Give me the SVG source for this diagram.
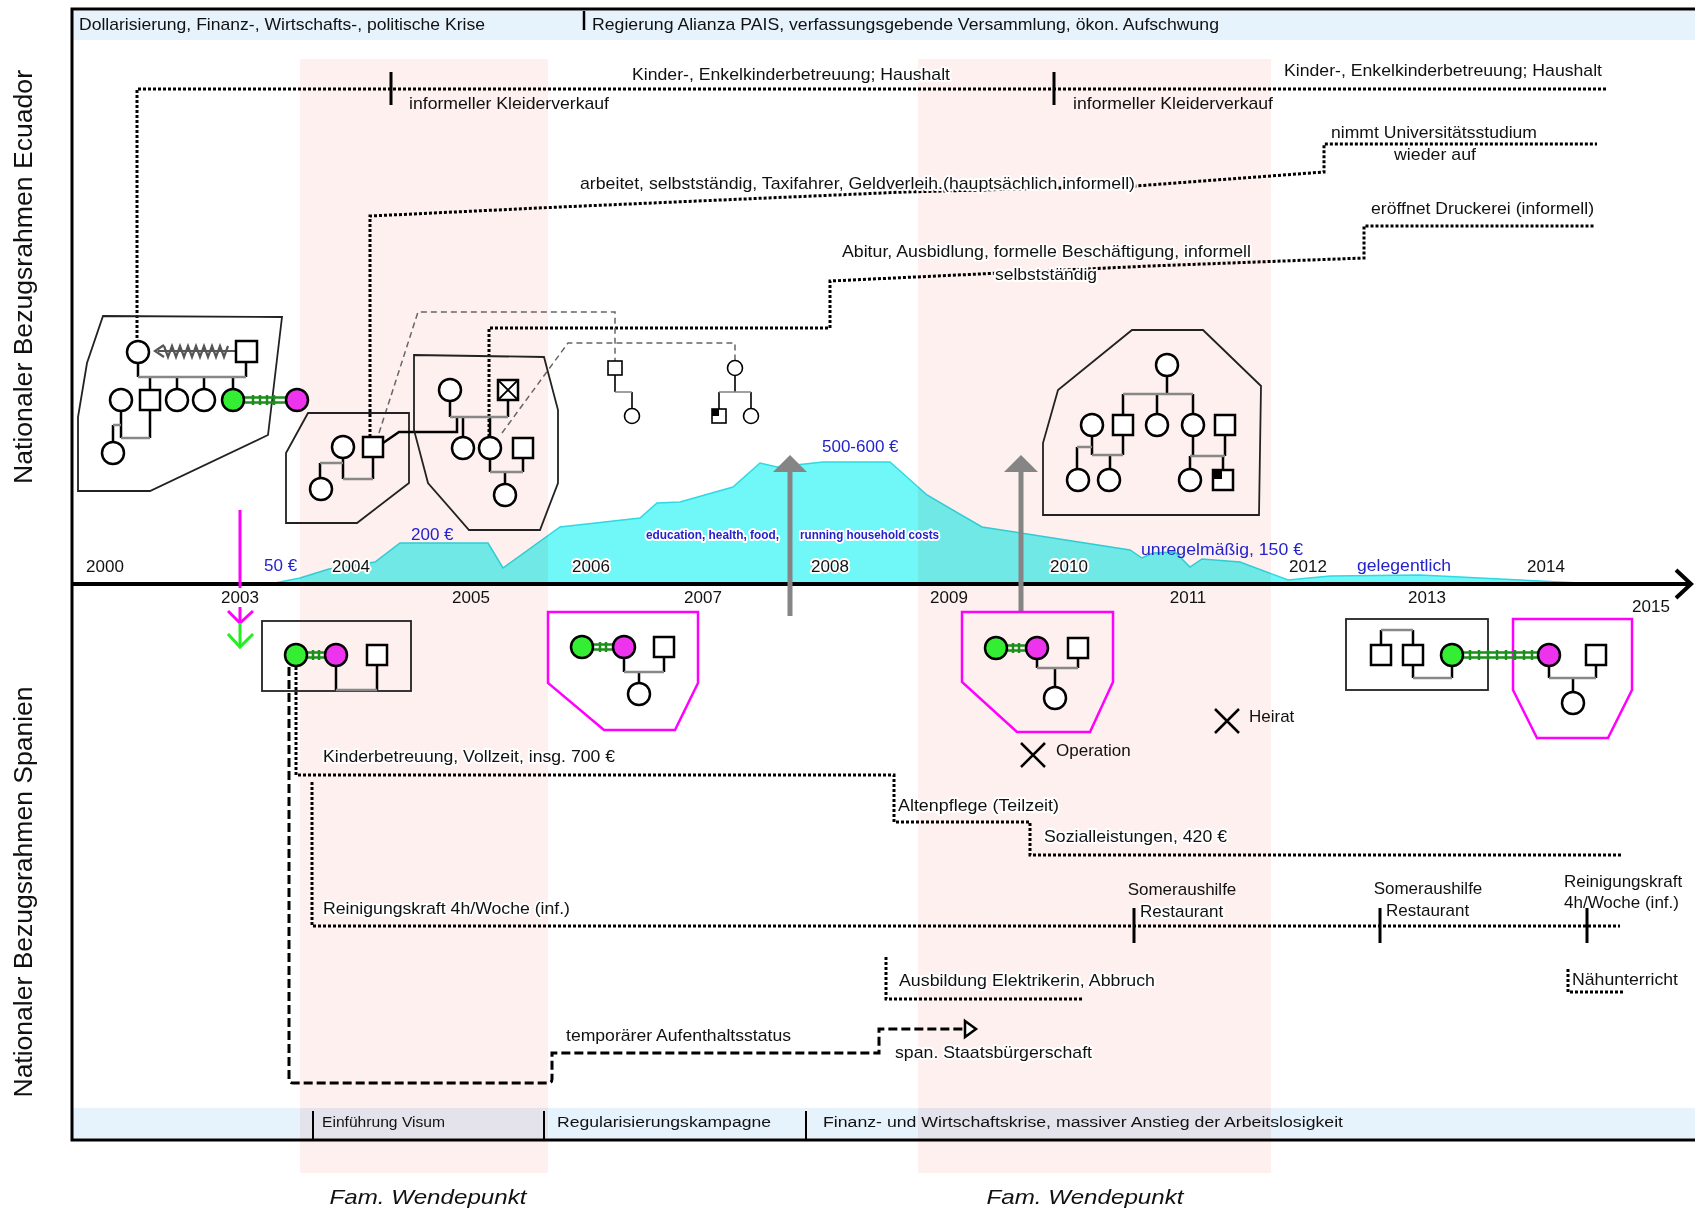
<svg xmlns="http://www.w3.org/2000/svg" width="1695" height="1211" viewBox="0 0 1695 1211">
<style>
.t{font-family:"Liberation Sans",Arial,sans-serif;font-size:17px;fill:#111}
.s{font-size:15.5px}
.fw{font-size:21px;font-style:italic}
.rl{font-size:25px}
.sm{font-size:12.5px;font-weight:bold}
.h{stroke:#fff;stroke-width:4;paint-order:stroke;stroke-linejoin:round}
.yr{text-anchor:middle}
.b{fill:#2323cc}
.dot{fill:none;stroke:#000;stroke-width:3;stroke-dasharray:3 2}
.dash{fill:none;stroke:#000;stroke-width:3;stroke-dasharray:9 4}
.gd{fill:none;stroke:#666;stroke-width:1.5;stroke-dasharray:6 4}
.p{fill:#fff;stroke:#000;stroke-width:2.5}
.ps{fill:#fff;stroke:#000;stroke-width:1.6}
.v{fill:none;stroke:#000;stroke-width:2.5}
.g{fill:none;stroke:#888;stroke-width:2.5}
.vs{fill:none;stroke:#000;stroke-width:1.6}
.gs{fill:none;stroke:#888;stroke-width:1.6}
.box{fill:none;stroke:#222;stroke-width:1.8}
.mb{fill:none;stroke:#f0f;stroke-width:2.5}
.gr{fill:#33ee33;stroke:#000;stroke-width:2.5}
.mg{fill:#ee33ee;stroke:#000;stroke-width:2.5}
.lk{fill:none;stroke:#1b8f1b;stroke-width:2.5}
.tick{stroke:#000;stroke-width:3}
.pink{fill:#fdf0ee;mix-blend-mode:multiply}
.ga{stroke:#858585;stroke-width:5}
</style>

<!-- backgrounds -->
<rect x="73" y="11" width="1622" height="29" fill="#e6f2fc"/>
<rect x="73" y="1108" width="1622" height="30" fill="#e6f2fc"/>
<path id="income" d="M270,584 L300,578 L329,569 L375,562 L400,543 L488,543 L503,568 L560,527 L640,518 L657,503 L680,502 L733,487 L760,463 L777,467 L823,462 L890,462 L927,495 L982,527 L1130,550 L1142,558 L1153,553 L1175,552 L1190,567 L1202,559 L1240,562 L1288,580 L1330,576 L1420,575 L1500,579 L1600,584 Z" fill="#70f7f7" stroke="#2fd9e3" stroke-width="1.5"/>
<rect class="pink" x="300" y="59" width="248" height="1114"/>
<rect class="pink" x="918" y="59" width="353" height="1114"/>

<!-- frame and axis -->
<g id="frame">
<path d="M1695,9 H72 V1140 H1695" fill="none" stroke="#000" stroke-width="3"/>
<line x1="584" y1="11" x2="584" y2="30" stroke="#000" stroke-width="2.5"/>
<line x1="313" y1="1111" x2="313" y2="1139" stroke="#000" stroke-width="2"/>
<line x1="544" y1="1111" x2="544" y2="1139" stroke="#000" stroke-width="2"/>
<line x1="806" y1="1111" x2="806" y2="1139" stroke="#000" stroke-width="2"/>
<line x1="72" y1="584" x2="1689" y2="584" stroke="#000" stroke-width="4"/>
<polyline points="1676,570 1691,584 1676,598" fill="none" stroke="#000" stroke-width="4"/>
</g>

<!-- band texts -->
<text class="t" x="79" y="30" textLength="406" lengthAdjust="spacingAndGlyphs">Dollarisierung, Finanz-, Wirtschafts-, politische Krise</text>
<text class="t" x="592" y="30" textLength="627" lengthAdjust="spacingAndGlyphs">Regierung Alianza PAIS, verfassungsgebende Versammlung, ökon. Aufschwung</text>
<text class="t s" x="322" y="1127" textLength="123" lengthAdjust="spacingAndGlyphs">Einführung Visum</text>
<text class="t s" x="557" y="1127" textLength="214" lengthAdjust="spacingAndGlyphs">Regularisierungskampagne</text>
<text class="t s" x="823" y="1127" textLength="520" lengthAdjust="spacingAndGlyphs">Finanz- und Wirtschaftskrise, massiver Anstieg der Arbeitslosigkeit</text>
<text class="t fw" x="428" y="1204" text-anchor="middle" textLength="197" lengthAdjust="spacingAndGlyphs">Fam. Wendepunkt</text>
<text class="t fw" x="1085" y="1204" text-anchor="middle" textLength="197" lengthAdjust="spacingAndGlyphs">Fam. Wendepunkt</text>
<text class="t rl" transform="translate(32,277) rotate(-90)" text-anchor="middle" textLength="414" lengthAdjust="spacingAndGlyphs">Nationaler Bezugsrahmen Ecuador</text>
<text class="t rl" transform="translate(32,892) rotate(-90)" text-anchor="middle" textLength="411" lengthAdjust="spacingAndGlyphs">Nationaler Bezugsrahmen Spanien</text>

<!-- years -->
<g id="years">
<text class="t yr h" x="105" y="572">2000</text>
<text class="t yr h" x="351" y="572">2004</text>
<text class="t yr h" x="591" y="572">2006</text>
<text class="t yr h" x="830" y="572">2008</text>
<text class="t yr h" x="1069" y="572">2010</text>
<text class="t yr h" x="1308" y="572">2012</text>
<text class="t yr h" x="1546" y="572">2014</text>
<text class="t yr" x="240" y="603">2003</text>
<text class="t yr" x="471" y="603">2005</text>
<text class="t yr" x="703" y="603">2007</text>
<text class="t yr" x="949" y="603">2009</text>
<text class="t yr" x="1188" y="603">2011</text>
<text class="t yr" x="1427" y="603">2013</text>
<text class="t yr" x="1651" y="612">2015</text>
</g>

<!-- income labels -->
<g id="income-labels">
<text class="t b" x="264" y="571">50 €</text>
<text class="t b" x="411" y="540">200 €</text>
<text class="t b" x="822" y="452">500-600 €</text>
<text class="t b h sm" x="646" y="539" textLength="133" lengthAdjust="spacingAndGlyphs">education, health, food,</text>
<text class="t b h sm" x="800" y="539" textLength="139" lengthAdjust="spacingAndGlyphs">running household costs</text>
<text class="t b" x="1141" y="555" textLength="162" lengthAdjust="spacingAndGlyphs">unregelmäßig, 150 €</text>
<text class="t b" x="1357" y="571" textLength="94" lengthAdjust="spacingAndGlyphs">gelegentlich</text>
</g>

<!-- connectors -->
<g id="connectors">
<path class="dot" d="M137,338 V89 H1607"/>
<line class="tick" x1="391" y1="72" x2="391" y2="105"/>
<line class="tick" x1="1054" y1="72" x2="1054" y2="105"/>
<path class="dot" d="M370,437 V216 L560,207 L905,192 L1135,186 L1324,172 V144 H1597"/>
<path class="dot" d="M489,437 V328 H830 V281 L1150,266 L1364,258 V226 H1594"/>
<path class="gd" d="M379,433 L418,312 H615 V361"/>
<path class="gd" d="M502,433 L568,343 H735 V360"/>
<line class="ga" x1="790" y1="616" x2="790" y2="470"/>
<polygon points="773,472 807,472 790,455" fill="#858585"/>
<line class="ga" x1="1021" y1="612" x2="1021" y2="470"/>
<polygon points="1004,472 1038,472 1021,455" fill="#858585"/>
<line x1="240" y1="510" x2="240" y2="588" stroke="#f0f" stroke-width="3"/>
<line x1="240" y1="607" x2="240" y2="623" stroke="#f0f" stroke-width="3"/>
<polyline points="228,611 240,623 253,611" fill="none" stroke="#f0f" stroke-width="3"/>
<line x1="240" y1="623" x2="240" y2="647" stroke="#22ee22" stroke-width="3"/>
<polyline points="228,634 240,647 253,634" fill="none" stroke="#22ee22" stroke-width="3"/>
<path class="dash" d="M289,667 V1079 Q289,1083 293,1083 H548 Q552,1083 552,1079 V1053 H879 V1029 H964"/>
<polygon points="965,1021 976,1029 965,1037" fill="#fff" stroke="#000" stroke-width="2.5"/>
<path class="dot" d="M296,667 V775 H894 V822 H1030 V855 H1621"/>
<path class="dot" d="M312,782 V926 H1620"/>
<line class="tick" x1="1134" y1="908" x2="1134" y2="943"/>
<line class="tick" x1="1380" y1="908" x2="1380" y2="943"/>
<line class="tick" x1="1587" y1="908" x2="1587" y2="943"/>
<path class="dot" d="M886,957 V999 H1084"/>
<path class="dot" d="M1568,969 V992 H1625"/>
</g>

<!-- line labels -->
<g id="labels">
<text class="t h" x="632" y="80" textLength="318" lengthAdjust="spacingAndGlyphs">Kinder-, Enkelkinderbetreuung; Haushalt</text>
<text class="t" x="409" y="109" textLength="200" lengthAdjust="spacingAndGlyphs">informeller Kleiderverkauf</text>
<text class="t h" x="1284" y="76" textLength="318" lengthAdjust="spacingAndGlyphs">Kinder-, Enkelkinderbetreuung; Haushalt</text>
<text class="t" x="1073" y="109" textLength="200" lengthAdjust="spacingAndGlyphs">informeller Kleiderverkauf</text>
<text class="t h" x="1331" y="138" textLength="206" lengthAdjust="spacingAndGlyphs">nimmt Universitätsstudium</text>
<text class="t h" x="1394" y="160" textLength="82" lengthAdjust="spacingAndGlyphs">wieder auf</text>
<text class="t h" x="580" y="189" textLength="555" lengthAdjust="spacingAndGlyphs">arbeitet, selbstständig, Taxifahrer, Geldverleih.(hauptsächlich informell)</text>
<text class="t h" x="1371" y="214" textLength="223" lengthAdjust="spacingAndGlyphs">eröffnet Druckerei (informell)</text>
<text class="t h" x="842" y="257" textLength="409" lengthAdjust="spacingAndGlyphs">Abitur, Ausbidlung, formelle Beschäftigung, informell</text>
<text class="t h" x="995" y="280" textLength="102" lengthAdjust="spacingAndGlyphs">selbstständig</text>
<text class="t h" x="323" y="762" textLength="292" lengthAdjust="spacingAndGlyphs">Kinderbetreuung, Vollzeit, insg. 700 €</text>
<text class="t h" x="898" y="811" textLength="161" lengthAdjust="spacingAndGlyphs">Altenpflege (Teilzeit)</text>
<text class="t h" x="1044" y="842" textLength="183" lengthAdjust="spacingAndGlyphs">Sozialleistungen, 420 €</text>
<text class="t h" x="323" y="914" textLength="247" lengthAdjust="spacingAndGlyphs">Reinigungskraft 4h/Woche (inf.)</text>
<text class="t" x="1182" y="895" text-anchor="middle">Someraushilfe</text>
<text class="t h" x="1140" y="917">Restaurant</text>
<text class="t" x="1428" y="894" text-anchor="middle">Someraushilfe</text>
<text class="t h" x="1386" y="916">Restaurant</text>
<text class="t" x="1564" y="887">Reinigungskraft</text>
<text class="t" x="1564" y="908">4h/Woche (inf.)</text>
<text class="t h" x="899" y="986" textLength="256" lengthAdjust="spacingAndGlyphs">Ausbildung Elektrikerin, Abbruch</text>
<text class="t h" x="1572" y="985" textLength="106" lengthAdjust="spacingAndGlyphs">Nähunterricht</text>
<text class="t h" x="566" y="1041" textLength="225" lengthAdjust="spacingAndGlyphs">temporärer Aufenthaltsstatus</text>
<text class="t h" x="895" y="1058" textLength="197" lengthAdjust="spacingAndGlyphs">span. Staatsbürgerschaft</text>
</g>

<!-- events -->
<g id="ev-operation">
<path d="M1021,743 L1045,767 M1045,743 L1021,767" stroke="#000" stroke-width="2.5"/>
<text class="t" x="1056" y="756">Operation</text>
</g>
<g id="ev-heirat">
<path d="M1215,709 L1239,733 M1239,709 L1215,733" stroke="#000" stroke-width="2.5"/>
<text class="t" x="1249" y="722">Heirat</text>
</g>

<!-- Ecuador genogram 1 -->
<g id="ec-fam1">
<polygon class="box" points="103,316 282,317 268,435 150,491 78,491 78,417 87,363"/>
<path d="M164,345 L155,351 L164,357" fill="none" stroke="#555" stroke-width="2.2"/>
<path d="M158,351 H236 M164,346 l4,11 l4,-11 l4,11 l4,-11 l4,11 l4,-11 l4,11 l4,-11 l4,11 l4,-11 l4,11 l4,-11 l4,11 l4,-11 l4,11 l4,-11" fill="none" stroke="#555" stroke-width="2.2"/>
<path class="v" d="M138,363 V377 M246,362 V377 M150,377 V390 M177,377 V389 M204,377 V389 M233,377 V389"/>
<path class="g" d="M138,377 H246"/>
<path class="v" d="M121,411 V438 M150,410 V438 M113,425 V442"/>
<path class="g" d="M121,438 H150 M113,425 H121"/>
<circle class="p" cx="138" cy="352" r="11"/>
<rect class="p" x="236" y="341" width="21" height="21"/>
<circle class="p" cx="121" cy="400" r="11"/>
<rect class="p" x="140" y="390" width="20" height="20"/>
<circle class="p" cx="177" cy="400" r="11"/>
<circle class="p" cx="204" cy="400" r="11"/>
<circle class="p" cx="113" cy="453" r="11"/>
<path class="lk" d="M244,397.5 H286 M244,402.5 H286 M253,395 V405 M260,395 V405 M267,395 V405 M274,395 V405"/>
<circle class="gr" cx="233" cy="400" r="11"/>
<circle class="mg" cx="297" cy="400" r="11"/>
</g>

<!-- Ecuador genogram 2 -->
<g id="ec-fam2">
<polygon class="box" points="308,413 409,413 409,483 357,523 286,523 286,453"/>
<path class="v" d="M343,458 V479 M373,457 V479 M320,463 V478"/>
<path class="g" d="M343,479 H373 M320,463 H343"/>
<path d="M383,443 L399,432 H457 V417" fill="none" stroke="#000" stroke-width="2.5"/>
<circle class="p" cx="343" cy="447" r="11"/>
<rect class="p" x="363" y="437" width="20" height="20"/>
<circle class="p" cx="321" cy="489" r="11"/>
</g>

<!-- Ecuador genogram 3 -->
<g id="ec-fam3">
<polygon class="box" points="414,355 544,357 558,410 558,483 540,530 469,530 428,483 414,430"/>
<path class="v" d="M450,401 V417 M508,400 V417 M463,417 V437 M490,417 V437 M490,459 V472 M523,458 V472 M505,472 V484"/>
<path class="g" d="M450,417 H508 M490,472 H523"/>
<circle class="p" cx="450" cy="390" r="11"/>
<rect class="p" x="498" y="380" width="20" height="20"/>
<path d="M498,380 L518,400 M518,380 L498,400" stroke="#000" stroke-width="1.8"/>
<circle class="p" cx="463" cy="448" r="11"/>
<circle class="p" cx="490" cy="448" r="11"/>
<rect class="p" x="513" y="438" width="20" height="20"/>
<circle class="p" cx="505" cy="495" r="11"/>
</g>

<!-- Ecuador small genograms -->
<g id="ec-fam4">
<path class="vs" d="M615,375 V392 M632,392 V408.5"/>
<path class="gs" d="M615,392 H632"/>
<rect class="ps" x="608" y="361" width="14" height="14"/>
<circle class="ps" cx="632" cy="416" r="7.5"/>
</g>
<g id="ec-fam5">
<path class="vs" d="M735,375.5 V392 M719,392 V409 M751,392 V408.5"/>
<path class="gs" d="M719,392 H751"/>
<circle class="ps" cx="735" cy="368" r="7.5"/>
<rect class="ps" x="712" y="409" width="14" height="14"/>
<rect x="712" y="409" width="7" height="7" fill="#000"/>
<circle class="ps" cx="751" cy="416" r="7.5"/>
</g>

<!-- Ecuador big genogram 2010 -->
<g id="ec-fam6">
<polygon class="box" points="1132,330 1203,330 1261,386 1259,515 1043,515 1043,443 1058,390"/>
<path class="v" d="M1167,376 V394 M1123,394 V415 M1157,394 V414 M1193,394 V414 M1092,436 V455 M1123,435 V455 M1077,447 V469 M1110,455 V469 M1193,436 V456 M1225,435 V456 M1190,456 V469 M1223,456 V470"/>
<path class="g" d="M1123,394 H1193 M1092,455 H1123 M1077,447 H1092 M1190,456 H1225"/>
<circle class="p" cx="1167" cy="365" r="11"/>
<circle class="p" cx="1092" cy="425" r="11"/>
<rect class="p" x="1113" y="415" width="20" height="20"/>
<circle class="p" cx="1157" cy="425" r="11"/>
<circle class="p" cx="1193" cy="425" r="11"/>
<rect class="p" x="1215" y="415" width="20" height="20"/>
<circle class="p" cx="1078" cy="480" r="11"/>
<circle class="p" cx="1109" cy="480" r="11"/>
<circle class="p" cx="1190" cy="480" r="11"/>
<rect class="p" x="1213" y="470" width="20" height="20"/>
<rect x="1213" y="470" width="9" height="9" fill="#000"/>
</g>

<!-- Spain genograms -->
<g id="es-fam1">
<rect class="box" x="262" y="621" width="149" height="70"/>
<path class="v" d="M336,666 V690 M377,665 V690"/>
<path class="g" d="M336,690 H377"/>
<path class="lk" d="M306,652.5 H326 M306,657.5 H326 M313,650 V660 M319,650 V660"/>
<circle class="gr" cx="296" cy="655" r="11"/>
<circle class="mg" cx="336" cy="655" r="11"/>
<rect class="p" x="367" y="645" width="20" height="20"/>
</g>
<g id="es-fam2">
<polygon class="mb" points="548,612 698,612 698,683 675,730 604,730 548,683"/>
<path class="v" d="M624,658 V672 M664,657 V672 M639,672 V683"/>
<path class="g" d="M624,672 H664"/>
<path class="lk" d="M592,644.5 H614 M592,649.5 H614 M600,642 V652 M606,642 V652"/>
<circle class="gr" cx="582" cy="647" r="11"/>
<circle class="mg" cx="624" cy="647" r="11"/>
<rect class="p" x="654" y="637" width="20" height="20"/>
<circle class="p" cx="639" cy="694" r="11"/>
</g>
<g id="es-fam3">
<polygon class="mb" points="962,612 1113,612 1113,682 1090,732 1017,732 962,682"/>
<path class="v" d="M1037,659 V668 M1078,658 V668 M1055,668 V687"/>
<path class="g" d="M1037,668 H1078"/>
<path class="lk" d="M1006,645.5 H1027 M1006,650.5 H1027 M1013,643 V653 M1019,643 V653"/>
<circle class="gr" cx="996" cy="648" r="11"/>
<circle class="mg" cx="1037" cy="648" r="11"/>
<rect class="p" x="1068" y="638" width="20" height="20"/>
<circle class="p" cx="1055" cy="698" r="11"/>
</g>
<g id="es-fam4">
<rect class="box" x="1346" y="619" width="142" height="71"/>
<path class="v" d="M1381,645 V630 M1413,645 V630 M1413,665 V678 M1452,666 V678"/>
<path class="g" d="M1381,630 H1413 M1413,678 H1452"/>
<rect class="p" x="1371" y="645" width="20" height="20"/>
<rect class="p" x="1403" y="645" width="20" height="20"/>
</g>
<g id="es-fam5">
<polygon class="mb" points="1513,619 1632,619 1632,690 1608,738 1537,738 1513,690"/>
<path class="v" d="M1549,666 V678 M1596,665 V678 M1573,678 V692"/>
<path class="g" d="M1549,678 H1596"/>
<rect class="p" x="1586" y="645" width="20" height="20"/>
<circle class="p" cx="1573" cy="703" r="11"/>
</g>
<g id="es-link">
<path class="lk" d="M1462,652.5 H1538 M1462,657.5 H1538 M1470,650 V660 M1479,650 V660 M1488,650 V660 M1497,650 V660 M1506,650 V660 M1515,650 V660 M1524,650 V660 M1532,650 V660"/>
<circle class="gr" cx="1452" cy="655" r="11"/>
<circle class="mg" cx="1549" cy="655" r="11"/>
</g>
</svg>
